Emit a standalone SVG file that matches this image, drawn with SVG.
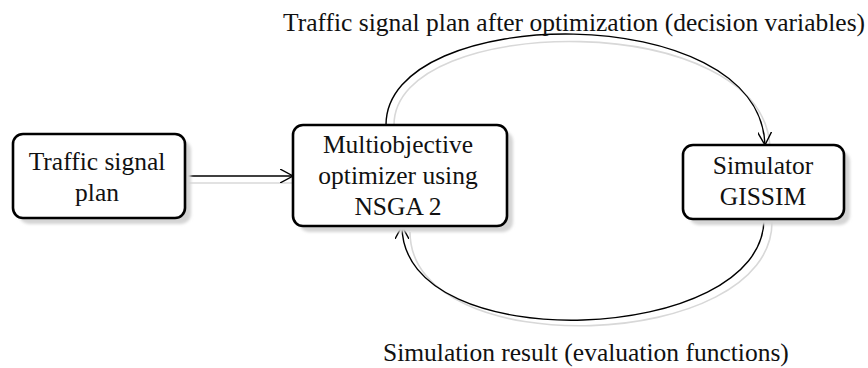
<svg xmlns="http://www.w3.org/2000/svg" width="868" height="368" viewBox="0 0 868 368">
<defs>
<marker id="arr" viewBox="0 0 14 14" refX="13" refY="7" markerWidth="14" markerHeight="14" markerUnits="userSpaceOnUse" orient="auto">
<path d="M0,0 L13,7 L0,14" fill="none" stroke="#000" stroke-width="1.4"/>
</marker>
<filter id="blur" x="-10%" y="-10%" width="120%" height="120%"><feGaussianBlur stdDeviation="1.5"/></filter>
</defs>
<style>
.box{fill:#fff;stroke:#000;stroke-width:2.6}
.shadow{fill:#d4d4d4;filter:url(#blur)}
.t{font-family:"Liberation Serif","Times New Roman",serif;font-size:25.5px;fill:#111;text-anchor:middle}
.lbl{font-family:"Liberation Serif","Times New Roman",serif;font-size:25.5px;fill:#111}
.c{fill:none;stroke:#000;stroke-width:1.4}
.cs{fill:none;stroke:#d8d8d8;stroke-width:1.6}
</style>
<rect width="868" height="368" fill="#fff"/>
<g id="connectors">
<path class="cs" d="M185,183 L300,183"/>
<path class="cs" d="M394,125 C394,12 765,8 770,148"/>
<path class="cs" d="M772,222 C772,352 410,365 410,232"/>
<path class="c" d="M185,176 L293,176" marker-end="url(#arr)"/>
<path class="c" d="M386,125 C386,3 760,-2 765,145" marker-end="url(#arr)"/>
<path class="c" d="M764,219 C764,345 402,360 402,226" marker-end="url(#arr)"/>
</g>
<g id="n1">
<rect class="shadow" x="19" y="140" width="172" height="84" rx="10"/>
<rect class="box" x="13" y="134" width="172" height="84" rx="10"/>
<text class="t" x="97" y="170">Traffic signal</text>
<text class="t" x="97" y="201">plan</text>
</g>
<g id="n2">
<rect class="shadow" x="299" y="131" width="214" height="101" rx="10"/>
<rect class="box" x="293" y="125" width="214" height="101" rx="10"/>
<text class="t" x="398" y="153">Multiobjective</text>
<text class="t" x="398" y="184">optimizer using</text>
<text class="t" x="398" y="215">NSGA 2</text>
</g>
<g id="n3">
<rect class="shadow" x="689" y="151" width="161" height="74" rx="10"/>
<rect class="box" x="683" y="145" width="161" height="74" rx="10"/>
<text class="t" x="763" y="174">Simulator</text>
<text class="t" x="763" y="205">GISSIM</text>
</g>
<text class="lbl" x="283" y="31">Traffic signal plan after optimization (decision variables)</text>
<text class="lbl" x="383" y="361">Simulation result (evaluation functions)</text>
</svg>
